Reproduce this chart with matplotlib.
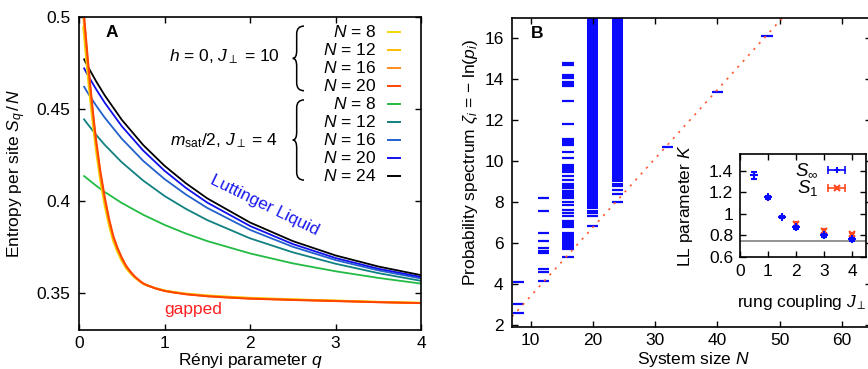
import numpy as np
import matplotlib
matplotlib.use("Agg")
import matplotlib.pyplot as plt
from matplotlib.path import Path
from matplotlib.patches import PathPatch

plt.rcParams['font.family'] = ['Liberation Sans', 'DejaVu Sans']
plt.rcParams['mathtext.fontset'] = 'custom'
plt.rcParams['mathtext.rm'] = 'Liberation Sans'
plt.rcParams['mathtext.it'] = 'Liberation Sans:italic'
plt.rcParams['mathtext.bf'] = 'Liberation Sans:bold'

# ---------------- Panel A data ----------------
q_ll = [0.06, 0.1, 0.2, 0.3, 0.5, 0.75, 1.0, 1.25, 1.5, 2.0, 2.5, 3.0, 3.5, 4.0]
S_ll_N8 = [0.4136, 0.4121, 0.4084, 0.4050, 0.3990, 0.3926, 0.3871, 0.3824, 0.3783, 0.3716, 0.3662, 0.3619, 0.3583, 0.3552]
S_ll_N12 = [0.4444, 0.4419, 0.4360, 0.4306, 0.4211, 0.4112, 0.4028, 0.3958, 0.3897, 0.3798, 0.3722, 0.3660, 0.3609, 0.3567]
S_ll_N16 = [0.4621, 0.4590, 0.4519, 0.4454, 0.4339, 0.4219, 0.4120, 0.4036, 0.3963, 0.3844, 0.3752, 0.3680, 0.3624, 0.3580]
S_ll_N20 = [0.4721, 0.4687, 0.4608, 0.4535, 0.4407, 0.4275, 0.4165, 0.4072, 0.3992, 0.3865, 0.3767, 0.3691, 0.3633, 0.3588]
S_ll_N24 = [0.4770, 0.4734, 0.4651, 0.4575, 0.4442, 0.4305, 0.4192, 0.4097, 0.4015, 0.3884, 0.3783, 0.3705, 0.3645, 0.3598]

q_gap = [0.05, 0.075, 0.1, 0.125, 0.15, 0.175, 0.2, 0.25, 0.3, 0.35, 0.4, 0.45, 0.5, 0.55, 0.6,
         0.65, 0.7, 0.75, 0.8, 0.9, 1.0, 1.1, 1.25, 1.5, 1.75, 2.0, 2.5, 3.0, 3.5, 4.0]
S_gap_N8 = [0.4945, 0.4815, 0.4690, 0.4575, 0.4465, 0.4365, 0.4268, 0.4107, 0.3975, 0.3868, 0.3782, 0.3722,
            0.3674, 0.3635, 0.3608, 0.3585, 0.3567, 0.3551, 0.3542, 0.3527, 0.3515, 0.3507, 0.3498, 0.3488,
            0.3481, 0.3475, 0.3467, 0.3460, 0.3453, 0.3448]
S_gap_N12 = [0.4999, 0.4865, 0.4735, 0.4615, 0.4501, 0.4396, 0.4297, 0.4132, 0.3997, 0.3886, 0.3795, 0.3733,
             0.3683, 0.3642, 0.3612, 0.3588, 0.3569, 0.3552, 0.3542, 0.3526, 0.3514, 0.3506, 0.3496, 0.3486,
             0.3479, 0.3473, 0.3465, 0.3459, 0.3452, 0.3447]
S_gap_N16 = [0.5035, 0.4898, 0.4765, 0.4643, 0.4525, 0.4418, 0.4317, 0.4148, 0.4012, 0.3898, 0.3804, 0.3741,
             0.3689, 0.3646, 0.3615, 0.3590, 0.3570, 0.3553, 0.3542, 0.3525, 0.3513, 0.3505, 0.3495, 0.3484,
             0.3477, 0.3471, 0.3464, 0.3458, 0.3451, 0.3446]
S_gap_N20 = [0.5065, 0.4925, 0.4790, 0.4665, 0.4545, 0.4435, 0.4333, 0.4162, 0.4025, 0.3908, 0.3812, 0.3747,
             0.3694, 0.3650, 0.3618, 0.3592, 0.3571, 0.3553, 0.3542, 0.3525, 0.3512, 0.3504, 0.3494, 0.3483,
             0.3476, 0.3470, 0.3463, 0.3457, 0.3451, 0.3446]

legend_labels = ["$N$ = 8", "$N$ = 12", "$N$ = 16", "$N$ = 20",
                 "$N$ = 8", "$N$ = 12", "$N$ = 16", "$N$ = 20", "$N$ = 24"]

# ---------------- Panel B data ----------------
spec_N = [8, 12, 16, 20, 24, 32, 40, 48]
spec_levels = {
    8: [2.6, 3.04, 4.11],
    12: [4.16, 4.6, 4.72, 5.52, 5.6, 5.77, 6.11, 6.5, 7.58, 8.21],
    16: [5.3, 5.7, 5.8, 5.88, 5.96, 6.04, 6.12, 6.2, 6.28, 6.36, 6.44, 6.5,
         6.8, 6.88, 6.96, 7.04, 7.1, 7.33, 7.46, 7.6, 7.85, 8.0, 8.2, 8.28, 8.36,
         8.44, 8.52, 8.56, 8.7, 8.78, 8.88, 9.07, 9.28, 9.46, 9.54, 9.62, 9.7, 9.8,
         10.18, 10.45, 10.78, 10.9, 10.98, 11.06, 11.1, 11.84, 12.93, 13.7, 13.78, 13.87,
         14.05, 14.13, 14.2, 14.68, 14.8],
    20: [6.85, 7.3, 7.45, 7.55],
    24: [8.0, 8.4, 8.6, 8.8, 8.9],
    32: [10.72],
    40: [13.4],
    48: [16.1],
}
dense_N = [20, 24]
dense_from = [7.65, 9.0]
dense_to = [17.0, 17.0]
min_line_slope = 0.336
min_line_offset = 0.05

# ---------------- Inset data ----------------
J_inf = [0.5, 1.0, 1.5, 2.0, 3.0, 4.0]
K_inf = [1.356, 1.152, 0.969, 0.876, 0.802, 0.765]
K_inf_err = [0.03, 0.012, 0.012, 0.015, 0.015, 0.015]
J_one = [2.0, 3.0, 4.0]
K_one = [0.907, 0.842, 0.811]
K_one_err = [0.015, 0.015, 0.015]
K_ref = 0.75

# ---------------- Figure ----------------
W, H = 868, 369
fig = plt.figure(figsize=(W / 100, H / 100), dpi=100)


def frac(l, r, t, b):
    return [l / W, (H - b) / H, (r - l) / W, (b - t) / H]


axA = fig.add_axes(frac(79, 421, 17, 330))
axB = fig.add_axes(frac(512, 871, 18, 327))
axI = fig.add_axes(frac(740, 866, 154, 257))

FS = 12.5
for ax in (axA, axB, axI):
    for s in ax.spines.values():
        s.set_linewidth(1.2)
    ax.tick_params(direction='in', length=4, width=1.0, top=True, right=True,
                   labelsize=FS, pad=6)
axA.tick_params(axis='x', pad=4.5)
axB.tick_params(axis='x', pad=4.5)

# ---- Panel A ----
ll_colors = ['#22bb44', '#118080', '#2260cc', '#1010ee', '#000000']
gap_colors = ['#f2d800', '#ffbb00', '#ff8a20', '#ff4400']
for S, c in zip([S_ll_N8, S_ll_N12, S_ll_N16, S_ll_N20, S_ll_N24], ll_colors):
    axA.plot(q_ll, S, color=c, lw=1.3)
for S, c in zip([S_gap_N8, S_gap_N12, S_gap_N16, S_gap_N20], gap_colors):
    axA.plot(q_gap, S, color=c, lw=1.4)
axA.set_xlim(0, 4)
axA.set_ylim(0.33, 0.5)
axA.set_xticks([0, 1, 2, 3, 4])
axA.set_yticks([0.35, 0.4, 0.45, 0.5])
axA.set_yticklabels(['0.35', '0.4', '0.45', '0.5'])
axA.set_xlabel('Rényi parameter $q$', fontsize=FS)
axA.set_ylabel('Entropy per site $S_q\\,/\\,N$', fontsize=FS)
axA.xaxis.set_label_coords(0.5, -0.066)
axA.yaxis.set_label_coords(-0.15, 0.5)

axA.text(0.079, 0.949, 'A', transform=axA.transAxes, fontsize=FS, fontweight='bold',
         ha='left', va='center')
axA.text(0.333, 0.064, 'gapped', transform=axA.transAxes, fontsize=FS, color='#ff2020',
         ha='center', va='center')
axA.text(0.544, 0.399, 'Luttinger Liquid', transform=axA.transAxes, fontsize=FS,
         color='#1a1aee', ha='center', va='center', rotation=-26, rotation_mode='anchor')

row_y0, row_dy = 0.952, 0.0575
for i, (lab, c) in enumerate(zip(legend_labels, gap_colors + ll_colors)):
    y = row_y0 - i * row_dy
    axA.text(0.868, y, lab, transform=axA.transAxes, fontsize=FS, ha='right', va='center')
    axA.plot([0.9035, 0.9386], [y, y], transform=axA.transAxes, color=c, lw=1.4)

axA.text(0.588, 0.872, '$h$ = 0, $J_\\perp$ = 10', transform=axA.transAxes, fontsize=FS,
         ha='right', va='center')
axA.text(0.582, 0.604, '$m_\\mathrm{sat}/2$, $J_\\perp$ = 4', transform=axA.transAxes,
         fontsize=FS, ha='right', va='center')


def brace(ax, xp, xs, xt, y0, y1, r=0.025):
    ym = 0.5 * (y0 + y1)
    verts = [(xt, y1), (xs, y1), (xs, y1 - r),
             (xs, ym + r), (xs, ym), (xp, ym),
             (xs, ym), (xs, ym - r),
             (xs, y0 + r), (xs, y0), (xt, y0)]
    codes = [Path.MOVETO, Path.CURVE3, Path.CURVE3,
             Path.LINETO, Path.CURVE3, Path.CURVE3,
             Path.CURVE3, Path.CURVE3,
             Path.LINETO, Path.CURVE3, Path.CURVE3]
    ax.add_patch(PathPatch(Path(verts, codes), transform=ax.transAxes, fill=False,
                           lw=1.1, color='black', clip_on=False))


brace(axA, 0.625, 0.6365, 0.658, 0.7645, 0.971)
brace(axA, 0.625, 0.6365, 0.658, 0.479, 0.735)

# ---- Panel B ----
half_w = 0.9
blue = '#0a0aff'
for n in spec_N:
    axB.hlines(spec_levels[n], n - half_w, n + half_w, color=blue, lw=1.6)
axB.bar(dense_N, np.array(dense_to) - np.array(dense_from), bottom=dense_from,
        width=2 * half_w, color=blue, lw=0)
xs = np.array([7.0, 65.0])
axB.plot(xs, min_line_slope * xs + min_line_offset, color='#ff5a30', lw=1.2,
         linestyle=(0, (1.3, 3.5)))
axB.set_xlim(7, 64.7)
axB.set_ylim(1.9, 17)
axB.set_xticks([10, 20, 30, 40, 50, 60])
axB.set_yticks([2, 4, 6, 8, 10, 12, 14, 16])
axB.set_xlabel('System size $N$', fontsize=FS)
axB.set_ylabel('Probability spectrum $\\zeta_i$ = $-$ ln($p_i$)', fontsize=FS)
axB.xaxis.set_label_coords(0.506, -0.074)
axB.yaxis.set_label_coords(-0.089, 0.534)
axB.text(0.07, 0.951, 'B', transform=axB.transAxes, fontsize=FS, fontweight='bold',
         ha='center', va='center')

# ---- Inset ----
axI.axhline(K_ref, color='#808080', lw=1.2)
axI.errorbar(J_inf, K_inf, yerr=K_inf_err, fmt='+', color=blue, ms=6, mew=1.5,
             elinewidth=1.2, capsize=2.5, zorder=3)
axI.errorbar(J_one, K_one, yerr=K_one_err, fmt='x', color='#ff4a20', ms=5, mew=1.5,
             elinewidth=1.2, capsize=2.5, zorder=2)
axI.set_xlim(0, 4.5)
axI.set_ylim(0.6, 1.555)
axI.set_xticks([0, 1, 2, 3, 4])
axI.set_yticks([0.6, 0.8, 1.0, 1.2, 1.4])
axI.set_yticklabels(['0.6', '0.8', '1', '1.2', '1.4'])
axI.tick_params(pad=5)
axI.set_xlabel('rung coupling $J_\\perp$', fontsize=FS)
axI.set_ylabel('LL parameter $K$', fontsize=FS)
axI.xaxis.set_label_coords(0.49, -0.35)
axI.yaxis.set_label_coords(-0.357, 0.5)

for y, lab, c, mk in [(0.845, '$S_\\infty$', blue, '+'), (0.673, '$S_1$', '#ff4a20', 'x')]:
    axI.text(0.62, y, lab, transform=axI.transAxes, fontsize=FS + 1, ha='right', va='center')
    axI.plot([0.70, 0.833], [y, y], transform=axI.transAxes, color=c, lw=1.2,
             marker='|', ms=6, mew=1.2)
    axI.plot([0.7665], [y], transform=axI.transAxes, color=c, marker=mk, ms=5, mew=1.5)

fig.savefig('out.png', dpi=100)
